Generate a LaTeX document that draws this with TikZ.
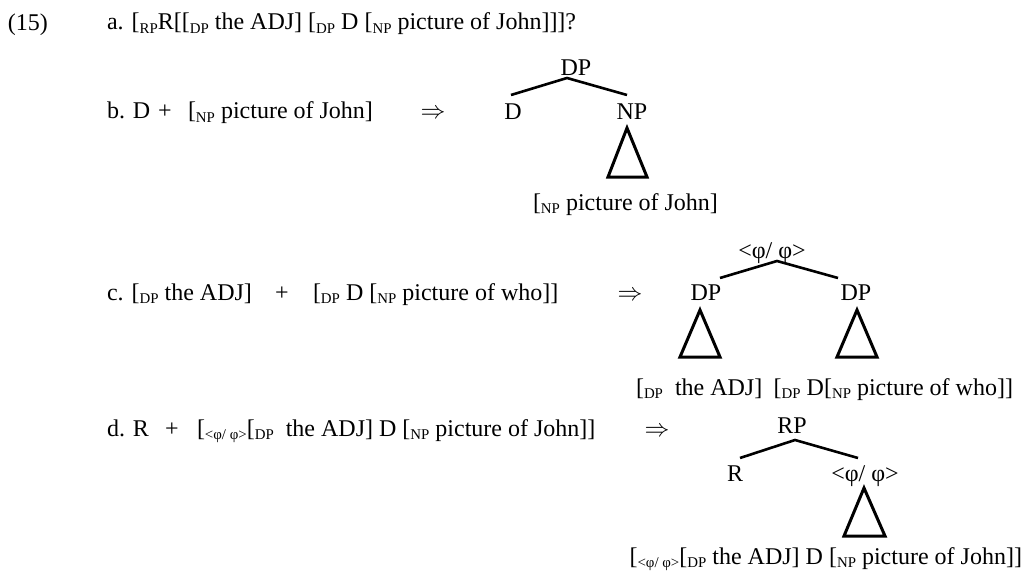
\documentclass[tikz,border=0pt]{standalone}
\usepackage{fontspec}
\setmainfont{Liberation Serif}
\newcommand{\sbx}[1]{\raisebox{-0.15em}{\scalebox{0.62}{#1}}}
\begin{document}
\begin{tikzpicture}[x=1pt,y=-1pt,
  every node/.style={inner sep=0pt, outer sep=0pt, font=\fontsize{24}{28}\selectfont},
  txt/.style={anchor=base west},
  txte/.style={anchor=base east},
  lab/.style={anchor=base},
  edge/.style={line width=2.6pt},
  tri/.style={line width=3pt, line join=miter}]
\useasboundingbox (0,0) rectangle (1028,575);

% (a)
\node[txt] (num) at (8,31) {(15)};
\node[txt] (la) at (107,30) {a. [\sbx{RP}R[[\sbx{DP} the ADJ] [\sbx{DP} D [\sbx{NP} picture of John]]]?};

% (b)
\node[txt] (lb1) at (107,119) {b. D};
\node[lab] (lbp) at (165,119) {+};
\node[txt] (lb2) at (188,119) {[\sbx{NP} picture of John]};
\node[lab] (arb) at (433,119) {$\Rightarrow$};

\node[lab] (bDP) at (576,76) {DP};
\node[lab] (bD) at (513,120) {D};
\node[lab] (bNP) at (632,120) {NP};
\coordinate (bap) at (567,78);
\coordinate (bl) at (511,95);
\coordinate (br) at (627,95);
\draw[edge] (bl) -- (bap) -- (br);
\draw[tri] (627,128) -- (608,177) -- (647,177) -- cycle;
\node[txt] (bbot) at (533,210) {[\sbx{NP} picture of John]};

% (c)
\node[txt] (lc1) at (107,300) {c. [\sbx{DP} the ADJ]};
\node[lab] (lcp) at (282,300) {+};
\node[txt] (lc2) at (313,300) {[\sbx{DP} D [\sbx{NP} picture of who]]};
\node[lab] (arc) at (630,300) {$\Rightarrow$};

\node[lab] (cphi) at (772,258) {<φ/ φ>};
\node[lab] (cDP1) at (706,300) {DP};
\node[lab] (cDP2) at (856,300) {DP};
\coordinate (cap) at (777,261);
\coordinate (cl) at (720,278);
\coordinate (cr) at (838,278);
\draw[edge] (cl) -- (cap) -- (cr);
\draw[tri] (700,310) -- (680,357) -- (720,357) -- cycle;
\draw[tri] (857,310) -- (837,357) -- (877,357) -- cycle;
\node[txt] (cbot1) at (636,395) {[\sbx{DP}\ \ the ADJ]};
\node[txte] (cbot2) at (1013,395) {[\sbx{DP} D[\sbx{NP} picture of who]]};

% (d)
\node[txt] (ld1) at (107,436) {d. R};
\node[lab] (ldp) at (172,436) {+};
\node[txt] (ld2) at (197,436) {[\sbx{<φ/ φ>}[\sbx{DP}\ \ the ADJ] D [\sbx{NP} picture of John]]};
\node[lab] (ard) at (657,436) {$\Rightarrow$};

\node[lab] (dRP) at (792,433) {RP};
\node[lab] (dR) at (735,481) {R};
\node[lab] (dphi) at (865,481) {<φ/ φ>};
\coordinate (dap) at (795,440);
\coordinate (dl) at (740,458);
\coordinate (dr) at (858,458);
\draw[edge] (dl) -- (dap) -- (dr);
\draw[tri] (864,488) -- (844,536) -- (885,536) -- cycle;
\node[txte] (dbot) at (1022,564) {[\sbx{<φ/ φ>}[\sbx{DP} the ADJ] D [\sbx{NP} picture of John]]};
\end{tikzpicture}
\end{document}
